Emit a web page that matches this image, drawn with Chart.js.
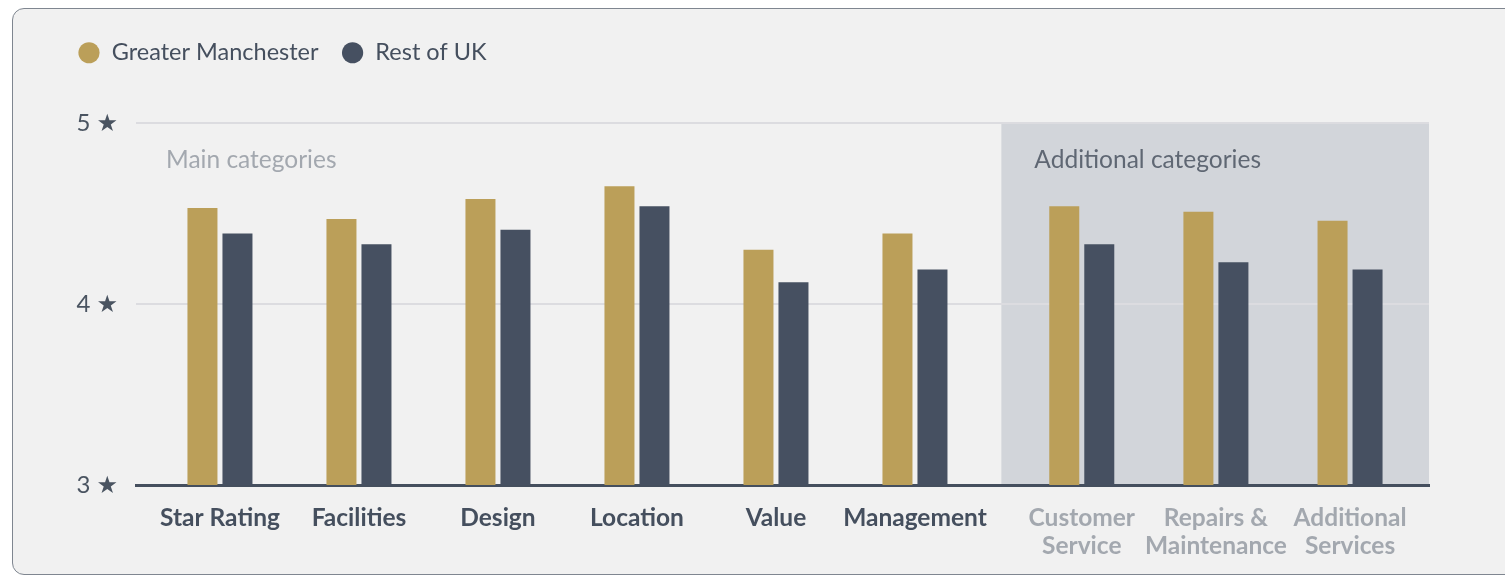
<!DOCTYPE html>
<html>
<head>
<meta charset="utf-8">
<script src="https://cdn.jsdelivr.net/npm/chart.js@4"></script>
<style>
  html, body { margin: 0; padding: 0; background: #ffffff; overflow: hidden; }
  #card {
    position: absolute; left: 12px; top: 8px; width: 1600px; height: 565px;
    border: 1px solid #7f8690; border-radius: 12px; background: #f1f1f1;
  }
  #wrap { position: absolute; left: 0; top: 0; width: 1505px; height: 576px; }
</style>
</head>
<body>
<div id="card"></div>
<div id="wrap"><canvas id="mychart"></canvas></div>
<script>
// categories
const mainLabels = ['Star Rating', 'Facilities', 'Design', 'Location', 'Value', 'Management'];
const extraLabels = [['Customer', 'Service'], ['Repairs &', 'Maintenance'], ['Additional', 'Services']];

// series values (stars)
const manchester = [4.53, 4.47, 4.58, 4.65, 4.30, 4.39, 4.54, 4.51, 4.46];
const restOfUK   = [4.39, 4.33, 4.41, 4.54, 4.12, 4.19, 4.33, 4.23, 4.19];

// y ticks
const starTicks = [3, 4, 5];

const allLabels = mainLabels.concat(extraLabels);

// x positions: main group one unit apart, the additional group after a small gap
var xPos = [];
for (var i = 0; i < mainLabels.length; i++) xPos.push(i);
for (var j = 0; j < extraLabels.length; j++) xPos.push(mainLabels.length + 0.2 + j * 0.965);

const FONT = 'Lato, "DejaVu Sans", sans-serif';
const TEXT_DARK = '#454f5e';
const TEXT_GREY = '#a3a8af';

function toPoints(values) {
  return values.map(function (v, k) { return { x: xPos[k], y: v }; });
}

// shaded "Additional categories" area + group captions
const sectionPlugin = {
  id: 'sections',
  beforeInit: function (chart) {
    const fit = chart.legend.fit;
    chart.legend.fit = function () {
      fit.call(this);
      this.height = 105;
    };
  },
  beforeDraw: function (chart) {
    const ctx = chart.ctx;
    const x = chart.scales.x, y = chart.scales.y;
    const left = x.getPixelForValue((xPos[mainLabels.length - 1] + xPos[mainLabels.length]) / 2) + 3;
    const top = y.getPixelForValue(5), bottom = y.getPixelForValue(3);
    ctx.save();
    ctx.fillStyle = '#d2d5da';
    ctx.fillRect(left, top, chart.chartArea.right - left, bottom - top);
    ctx.font = '24.5px ' + FONT;
    ctx.textBaseline = 'middle';
    ctx.fillStyle = TEXT_GREY;
    ctx.fillText('Main categories', chart.chartArea.left + 30, top + 37);
    ctx.fillStyle = '#5f6773';
    ctx.fillText('Additional categories', left + 33, top + 37);
    ctx.restore();
  }
};

const ctx = document.getElementById('mychart').getContext('2d');

const data = {
  datasets: [
    {
      label: 'Greater Manchester',
      data: toPoints(manchester),
      backgroundColor: '#bb9f59',
      borderWidth: 0
    },
    {
      label: 'Rest of UK',
      data: toPoints(restOfUK),
      backgroundColor: '#465061',
      borderWidth: 0
    }
  ]
};

const config = {
  type: 'bar',
  data: data,
  plugins: [sectionPlugin],
  options: {
    responsive: true,
    maintainAspectRatio: false,
    animation: false,
    categoryPercentage: 0.522,
    barPercentage: 0.857,
    layout: { padding: { top: 18, left: 55, right: 76, bottom: 0 } },
    plugins: {
      tooltip: { enabled: false },
      legend: {
        position: 'top',
        align: 'start',
        labels: {
          usePointStyle: true,
          pointStyle: 'circle',
          boxWidth: 22,
          boxHeight: 15,
          padding: 23,
          color: TEXT_DARK,
          font: { family: FONT, size: 23.5 }
        }
      }
    },
    scales: {
      x: {
        type: 'linear',
        min: -0.604,
        max: 8.698,
        offset: false,
        afterBuildTicks: function (axis) {
          axis.ticks = xPos.map(function (v) { return { value: v }; });
        },
        afterFit: function (axis) { axis.height = 91; },
        grid: { display: false, drawTicks: false, offset: false },
        border: { display: true, color: '#454f5e', width: 3 },
        ticks: {
          autoSkip: false,
          maxRotation: 0,
          padding: 19,
          color: function (c) { return c.index < mainLabels.length ? TEXT_DARK : TEXT_GREY; },
          font: { family: FONT, size: 24.5, weight: 'bold', lineHeight: 1.15 },
          callback: function (value, index) { return allLabels[index]; }
        }
      },
      y: {
        min: starTicks[0],
        max: starTicks[starTicks.length - 1],
        afterFit: function (axis) { axis.width = 81; },
        afterBuildTicks: function (axis) {
          axis.ticks = starTicks.map(function (v) { return { value: v }; });
        },
        border: { display: false },
        grid: {
          drawTicks: false,
          lineWidth: 2,
          color: function (c) { return c.tick && c.tick.value === starTicks[0] ? 'rgba(0,0,0,0)' : '#dcdce0'; }
        },
        ticks: {
          padding: 18,
          color: '#4a5461',
          font: { family: FONT, size: 24 },
          callback: function (value) { return value + ' \u2605'; }
        }
      }
    }
  }
};

const barChart = new Chart(ctx, config);
</script>
</body>
</html>
